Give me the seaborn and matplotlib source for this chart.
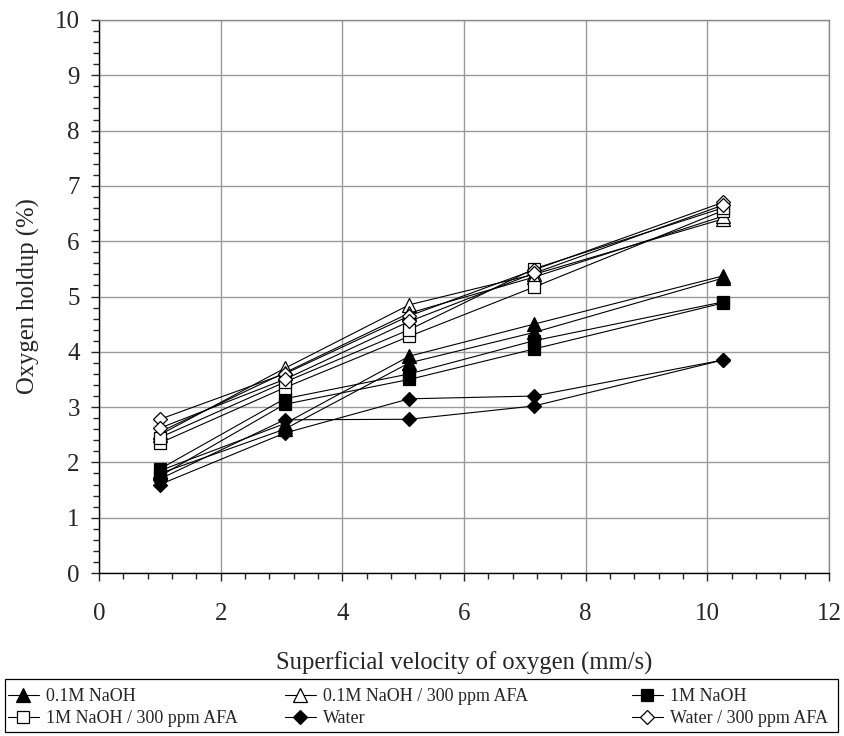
import matplotlib
matplotlib.use("Agg")
import matplotlib.pyplot as plt
from matplotlib.ticker import MultipleLocator
from matplotlib.lines import Line2D
from matplotlib.patches import Rectangle
import seaborn as sns
import pandas as pd

# ---- data (two runs per condition) ----
velocity = [1.0, 3.05, 5.1, 7.15, 10.25]

naoh01_a = [1.85, 2.70, 3.92, 4.50, 5.37]
naoh01_b = [1.80, 2.60, 3.80, 4.35, 5.33]
naoh01_afa_a = [2.50, 3.70, 4.85, 5.40, 6.40]
naoh01_afa_b = [2.55, 3.62, 4.70, 5.35, 6.45]
naoh1_a = [1.88, 3.15, 3.60, 4.20, 4.90]
naoh1_b = [1.75, 3.05, 3.50, 4.05, 4.88]
naoh1_afa_a = [2.35, 3.35, 4.28, 5.17, 6.55]
naoh1_afa_b = [2.45, 3.45, 4.40, 5.50, 6.60]
water_a = [1.60, 2.53, 3.15, 3.20, 3.85]
water_b = [1.70, 2.77, 2.78, 3.02, 3.85]
water_afa_a = [2.78, 3.60, 4.65, 5.48, 6.70]
water_afa_b = [2.62, 3.50, 4.55, 5.42, 6.65]

series_names = ["0.1M NaOH", "0.1M NaOH / 300 ppm AFA", "1M NaOH",
                "1M NaOH / 300 ppm AFA", "Water", "Water / 300 ppm AFA"]
series_runs = [(naoh01_a, naoh01_b), (naoh01_afa_a, naoh01_afa_b),
               (naoh1_a, naoh1_b), (naoh1_afa_a, naoh1_afa_b),
               (water_a, water_b), (water_afa_a, water_afa_b)]
markers = ["^", "^", "s", "s", "D", "D"]
filled = [True, False, True, False, True, False]
msizes = [9.5, 9.5, 8.2, 8.2, 7.2, 7.2]

xticks = [0, 2, 4, 6, 8, 10, 12]
yticks = list(range(0, 11))

rows = []
for name, runs in zip(series_names, series_runs):
    for r, vals in enumerate(runs):
        for xv, yv in zip(velocity, vals):
            rows.append({"series": name, "run": r, "x": xv, "y": yv})
df = pd.DataFrame(rows)

sns.set_style("white")
plt.rcParams["font.family"] = ["Liberation Serif", "DejaVu Serif"]

W, H = 844, 736
fig = plt.figure(figsize=(W/100, H/100), dpi=100)
ax = fig.add_axes([99/W, 1-573/H, (829-99)/W, (573-20)/H])

handles = []
for name, m, f, ms in zip(series_names, markers, filled, msizes):
    sub = df[df["series"] == name]
    for r in sorted(sub["run"].unique()):
        d = sub[sub["run"] == r]
        sns.lineplot(data=d, x="x", y="y", ax=ax, color="black", lw=0.8,
                     marker=m, markersize=ms, markeredgecolor="black",
                     markeredgewidth=0.9,
                     markerfacecolor="black" if f else "white",
                     estimator=None, sort=False, legend=False, zorder=3)
    handles.append(Line2D([], [], color="black", lw=0.8, marker=m,
                          markersize=ms, markeredgecolor="black",
                          markeredgewidth=0.9,
                          markerfacecolor="black" if f else "white",
                          label=name))

ax.set_xlim(0, 12)
ax.set_ylim(0, 10)
ax.set_xticks(xticks)
ax.set_yticks(yticks)
ax.xaxis.set_minor_locator(MultipleLocator(0.4))
ax.yaxis.set_minor_locator(MultipleLocator(0.2))
ax.grid(True, which="major", color="#9a9a9a", lw=1.0)
ax.set_axisbelow(True)
for s in ["top", "right"]:
    ax.spines[s].set_color("#8a8a8a")
    ax.spines[s].set_linewidth(1.0)
for s in ["left", "bottom"]:
    ax.spines[s].set_color("black")
    ax.spines[s].set_linewidth(1.0)
ax.tick_params(which="major", direction="out", length=5.8, width=1,
               labelsize=18, bottom=True, left=True)
ax.tick_params(which="minor", direction="out", length=4.3, width=1,
               bottom=True, left=True)
ax.tick_params(axis="x", which="major", pad=16)
ax.tick_params(axis="y", which="major", pad=8)

ax.set_xlabel("Superficial velocity of oxygen (mm/s)", fontsize=17.7, va="center")
ax.xaxis.set_label_coords(0.5, -(663-573)/553)
ax.set_ylabel("Oxygen holdup (%)", fontsize=17.7, va="center")
ax.yaxis.set_label_coords(-(99-28)/730, 0.5)

# legend: three columns placed individually inside one frame
frame = Rectangle((5/W, 1-732/H), (838-5)/W, (732-679)/H, transform=fig.transFigure,
                  fill=False, edgecolor="black", lw=0.9)
fig.patches.append(frame)
col_x = [8, 285, 632]
col_items = [[0, 3], [1, 4], [2, 5]]
for cx, items in zip(col_x, col_items):
    lg = fig.legend([handles[i] for i in items], [series_names[i] for i in items],
                    loc="upper left", bbox_to_anchor=(cx/W, 1-688/H),
                    frameon=False, fontsize=13, handlelength=1.7,
                    handletextpad=0.4, borderaxespad=0, borderpad=0,
                    labelspacing=0.3)

fig.savefig("out.png", dpi=100)
